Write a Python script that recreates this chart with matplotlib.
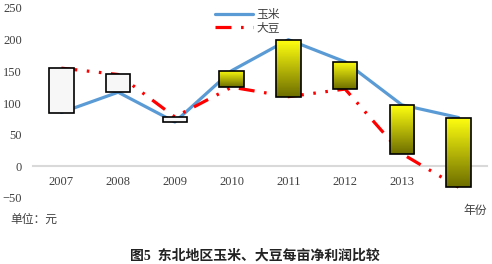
import numpy as np
import matplotlib.pyplot as plt
from matplotlib.patches import Rectangle
from matplotlib.colors import LinearSegmentedColormap

years = ['2007', '2008', '2009', '2010', '2011', '2012', '2013', '2014']
corn = [85, 117, 70, 151, 200, 165, 97, 77]
soy = [155, 145, 78, 125, 110, 122, 20, -33]

cjk = ['Liberation Serif', 'Noto Sans CJK SC', 'DejaVu Sans']
plt.rcParams['font.family'] = cjk

fig = plt.figure(figsize=(4.92, 2.64), dpi=100)
ax = fig.add_axes([33 / 492, 1 - 198 / 264, 454 / 492, 190 / 264])

x = np.arange(len(years))
ax.plot(x, corn, color='#5B9BD5', lw=2.3, label='玉米', zorder=2, solid_capstyle='round')
ax.plot(x, soy, color='#FF0000', lw=2.3, label='大豆', zorder=2,
        dashes=(5, 3, 0.8, 3, 0.8, 3))

cmap = LinearSegmentedColormap.from_list('yl', ['#6E6E00', '#FFFF10'])
grad = np.linspace(0, 1, 100).reshape(-1, 1)
w = 0.43
for i in range(len(years)):
    lo, hi = min(corn[i], soy[i]), max(corn[i], soy[i])
    if soy[i] > corn[i]:
        r = Rectangle((x[i] - w / 2, lo), w, hi - lo, facecolor='#F7F7F7',
                      edgecolor='black', lw=1.2, zorder=4)
        ax.add_patch(r)
    else:
        r = Rectangle((x[i] - w / 2, lo), w, hi - lo, facecolor='none',
                      edgecolor='black', lw=1.2, zorder=5)
        ax.add_patch(r)
        im = ax.imshow(grad, extent=(x[i] - w / 2, x[i] + w / 2, lo, hi), origin='lower',
                       cmap=cmap, aspect='auto', zorder=4)
        im.set_clip_path(r)

ax.set_xlim(-0.5, len(years) - 0.5)
ax.set_ylim(-50, 250)
ax.set_yticks([-50, 0, 50, 100, 150, 200, 250])
ax.set_xticks(x)
ax.set_xticklabels(years)
for s in ['top', 'right', 'left']:
    ax.spines[s].set_visible(False)
ax.spines['bottom'].set_position(('data', 0))
ax.spines['bottom'].set_color('#D9D9D9')
ax.spines['bottom'].set_linewidth(1.5)
ax.spines['bottom'].set_zorder(1)
ax.tick_params(axis='both', length=0, labelsize=9, colors='#404040')
ax.tick_params(axis='x', pad=7)
ax.tick_params(axis='y', pad=8)
ax.patch.set_visible(False)

fig.legend(loc='upper left', bbox_to_anchor=(210 / 492, 1 - 4 / 264), frameon=False,
           fontsize=8.5, handlelength=3.2, handletextpad=0.3, labelspacing=0.15,
           borderaxespad=0, labelcolor='#404040')

fig.text(10 / 492, 1 - 220 / 264, '单位：元', fontsize=8.5, va='center', color='#404040')
fig.text(463 / 492, 1 - 211 / 264, '年份', fontsize=8.5, va='center', color='#404040')
fig.text(255 / 492, 1 - 256 / 264, '图5  东北地区玉米、大豆每亩净利润比较', fontsize=10,
         fontweight='bold', ha='center', va='center', color='#222222')

fig.savefig('out.png', dpi=100)
